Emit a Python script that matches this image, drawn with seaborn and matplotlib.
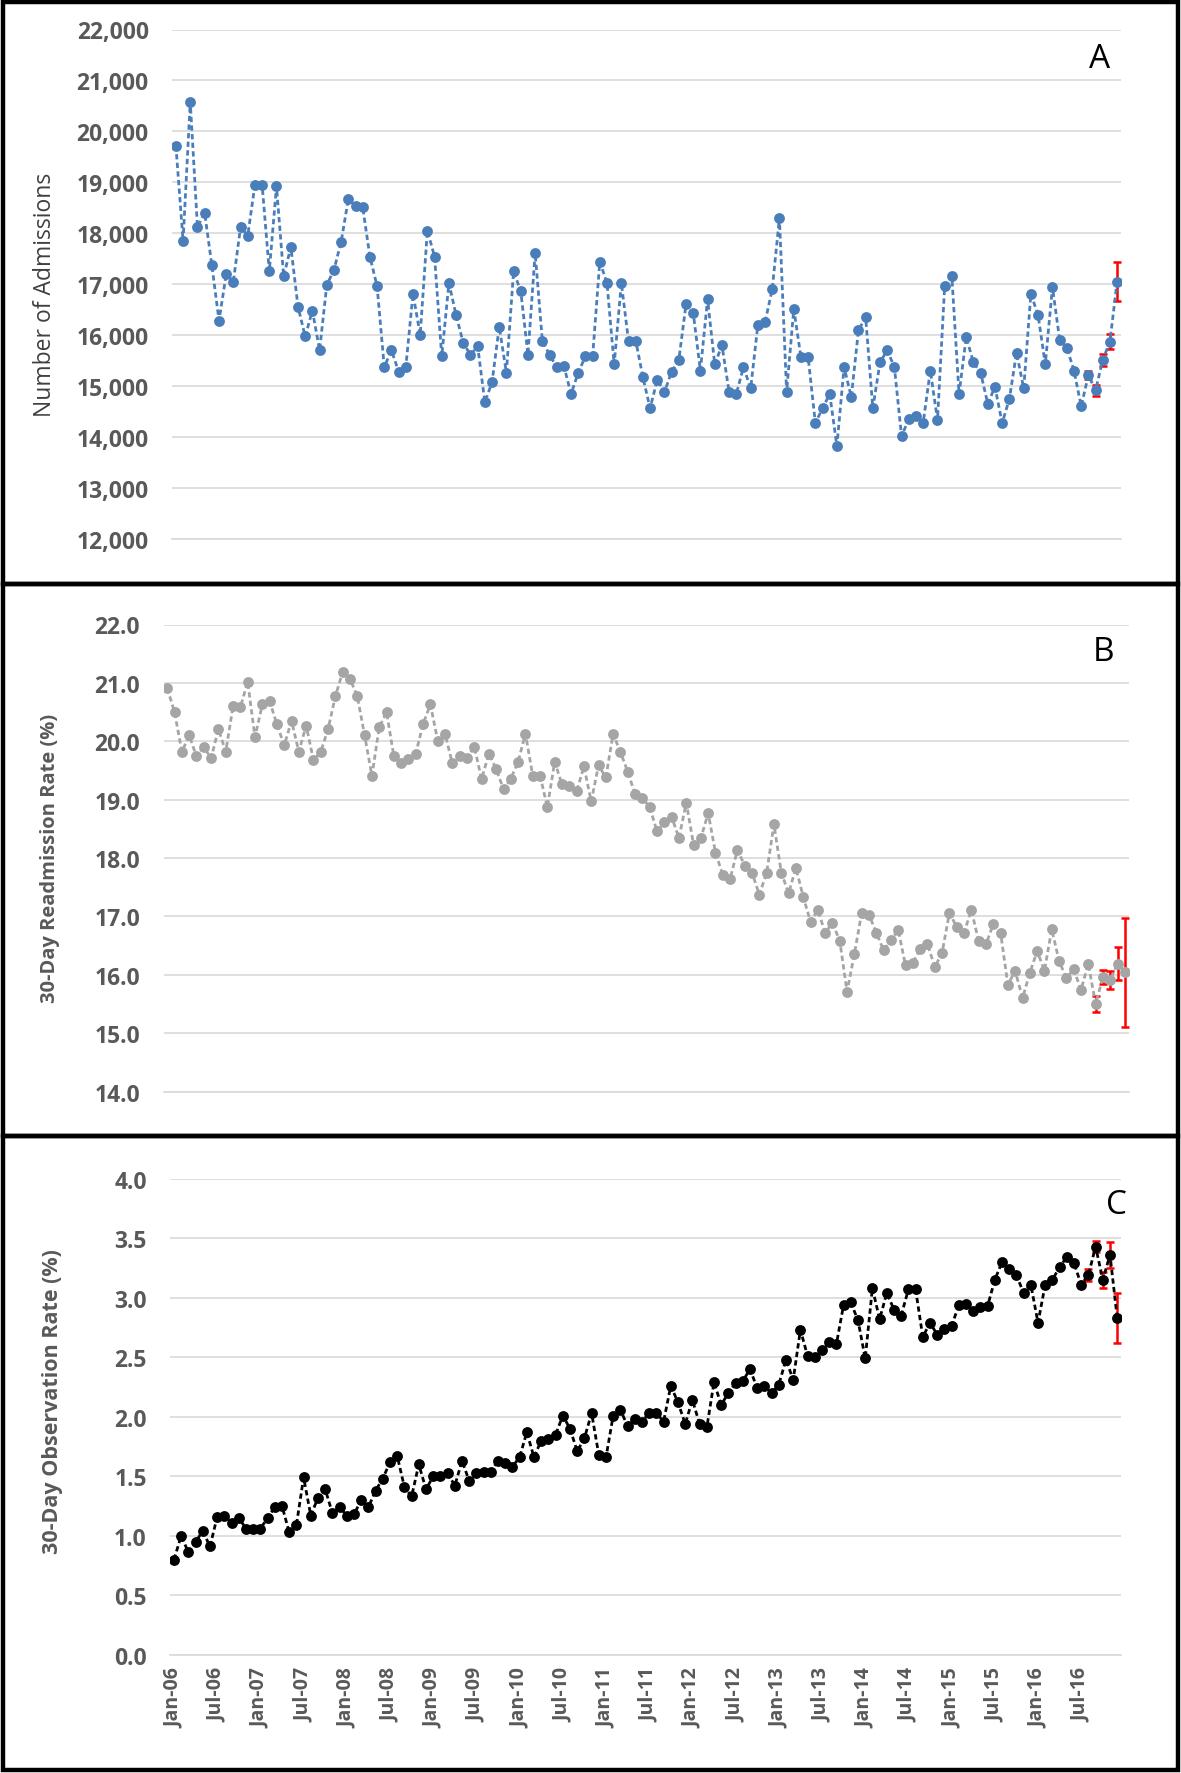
import numpy as np
import pandas as pd
import matplotlib
matplotlib.use("Agg")
import matplotlib.pyplot as plt
import seaborn as sns
from matplotlib.patches import Rectangle
from matplotlib.ticker import FixedLocator, FuncFormatter

# ---------------- data (monthly, Jan-06 .. Dec-16) ----------------
months = pd.date_range("2006-01-01", periods=132, freq="MS")
month_labels = [d.strftime("%b-%y") for d in months]

admissions = [
    19720, 17850, 20580, 18120, 18400, 17375, 16280, 17190, 17050, 18120, 17950, 18950,
    18950, 17250, 18920, 17150, 17730, 16550, 15970, 16480, 15700, 16980, 17280, 17830,
    18670, 18540, 18510, 17540, 16960, 15370, 15700, 15280, 15370, 16810, 16000, 18050,
    17540, 15580, 17020, 16390, 15840, 15610, 15780, 14680, 15070, 16160, 15260, 17250,
    16860, 15610, 17610, 15890, 15610, 15370, 15390, 14840, 15260, 15580, 15580, 17440,
    17020, 15420, 17020, 15880, 15890, 15170, 14560, 15120, 14880, 15280, 15510, 16600,
    16440, 15300, 16700, 15420, 15800, 14880, 14840, 15370, 14950, 16200, 16250, 16900,
    18300, 14880, 16510, 15560, 15560, 14270, 14560, 14840, 13820, 15370, 14780, 16090,
    16350, 14560, 15460, 15700, 15370, 14010, 14350, 14400, 14270, 15300, 14330, 16960,
    17150, 14840, 15960, 15460, 15260, 14650, 14980, 14270, 14740, 15650, 14950, 16810,
    16390, 15420, 16940, 15910, 15750, 15300, 14600, 15210, 14910, 15510, 15870, 17050,
]

readmission_rate = [
    20.91, 20.50, 19.82, 20.10, 19.74, 19.90, 19.71, 20.21, 19.82, 20.60, 20.58, 21.02,
    20.07, 20.63, 20.69, 20.29, 19.93, 20.35, 19.82, 20.27, 19.68, 19.82, 20.21, 20.77,
    21.19, 21.07, 20.77, 20.10, 19.41, 20.24, 20.50, 19.74, 19.63, 19.69, 19.79, 20.30,
    20.63, 20.01, 20.13, 19.62, 19.74, 19.71, 19.91, 19.35, 19.79, 19.52, 19.18, 19.36,
    19.65, 20.13, 19.41, 19.41, 18.87, 19.65, 19.26, 19.24, 19.14, 19.57, 18.97, 19.59,
    19.38, 20.13, 19.81, 19.48, 19.09, 19.03, 18.87, 18.46, 18.61, 18.71, 18.34, 18.95,
    18.23, 18.34, 18.77, 18.09, 17.71, 17.64, 18.14, 17.87, 17.75, 17.37, 17.75, 18.58,
    17.75, 17.40, 17.83, 17.34, 16.91, 17.11, 16.72, 16.89, 16.58, 15.71, 16.36, 17.06,
    17.03, 16.72, 16.42, 16.59, 16.77, 16.16, 16.21, 16.44, 16.53, 16.13, 16.38, 17.06,
    16.82, 16.72, 17.11, 16.58, 16.52, 16.87, 16.72, 15.83, 16.07, 15.60, 16.03, 16.41,
    16.07, 16.78, 16.24, 15.94, 16.10, 15.74, 16.19, 15.50, 15.96, 15.91, 16.19, 16.04,
]

observation_rate = [
    0.80, 1.00, 0.86, 0.95, 1.04, 0.91, 1.16, 1.17, 1.11, 1.15, 1.06, 1.06,
    1.06, 1.15, 1.24, 1.25, 1.03, 1.09, 1.49, 1.17, 1.32, 1.39, 1.19, 1.24,
    1.17, 1.18, 1.30, 1.24, 1.38, 1.48, 1.62, 1.67, 1.41, 1.33, 1.60, 1.39,
    1.50, 1.50, 1.53, 1.42, 1.63, 1.46, 1.53, 1.54, 1.54, 1.63, 1.61, 1.58,
    1.66, 1.87, 1.66, 1.80, 1.81, 1.85, 2.01, 1.90, 1.71, 1.82, 2.03, 1.68,
    1.66, 2.01, 2.06, 1.92, 1.98, 1.96, 2.03, 2.03, 1.96, 2.26, 2.12, 1.94,
    2.14, 1.94, 1.91, 2.29, 2.10, 2.20, 2.28, 2.30, 2.40, 2.24, 2.26, 2.20,
    2.27, 2.48, 2.31, 2.73, 2.51, 2.50, 2.56, 2.63, 2.61, 2.94, 2.96, 2.81,
    2.49, 3.08, 2.82, 3.04, 2.90, 2.85, 3.07, 3.07, 2.67, 2.79, 2.69, 2.74,
    2.76, 2.94, 2.95, 2.89, 2.92, 2.93, 3.15, 3.30, 3.24, 3.19, 3.04, 3.11,
    2.79, 3.11, 3.15, 3.26, 3.34, 3.29, 3.11, 3.19, 3.43, 3.15, 3.36, 2.83,
]

# error bars on the last five months (Aug-16 .. Dec-16)
err_months = [127, 128, 129, 130, 131]
admissions_err = [80, 100, 115, 150, 390]
readmission_err = [0.13, 0.12, 0.16, 0.28, 0.93]
observation_err = [0.05, 0.05, 0.07, 0.11, 0.21]

panel_letters = ["A", "B", "C"]
y_labels = ["Number of Admissions", "30-Day Readmission Rate (%)", "30-Day Observation Rate (%)"]

# ---------------- figure ----------------
sns.set_style("white")
plt.rcParams["font.family"] = ["Open Sans", "DejaVu Sans"]

W, H = 1181, 1774
fig = plt.figure(figsize=(W / 100, H / 100), dpi=100)

def frac_axes(l, r, t, b):
    return fig.add_axes([l / W, 1 - b / H, (r - l) / W, (b - t) / H])

axA = frac_axes(172.3, 1120.7, 30.5, 539.6)
axB = frac_axes(163.6, 1128.5, 625.5, 1092.6)
axC = frac_axes(170.4, 1120.8, 1179.7, 1655.8)

df = pd.DataFrame({
    "month": np.arange(len(months)),
    "admissions": admissions,
    "readmission": readmission_rate,
    "observation": observation_rate,
})

grid_c = "#d9d9d9"
label_c = "#595959"
dash = (0, (1.9, 1.2))

specs = [
    (axA, "admissions", "#4a7ebb", admissions_err, (12000, 22000), np.arange(12000, 22001, 1000),
     lambda v, p: f"{int(v):,}"),
    (axB, "readmission", "#a5a5a5", readmission_err, (14, 22), np.arange(14, 22.01, 1.0),
     lambda v, p: f"{v:.1f}"),
    (axC, "observation", "#000000", observation_err, (0, 4), np.arange(0, 4.01, 0.5),
     lambda v, p: f"{v:.1f}"),
]

for ax, col, color, err, ylim, yticks, fmt in specs:
    ax.errorbar([df["month"][i] for i in err_months], [df[col][i] for i in err_months],
                yerr=err, fmt="none", ecolor="#ff0000", elinewidth=1.8, capsize=3.2,
                capthick=1.8, zorder=2)
    sns.lineplot(data=df, x="month", y=col, ax=ax, color=color, marker="o",
                 markersize=7.8, markeredgewidth=0, linewidth=2.0, linestyle=dash, zorder=3)
    ax.set_xlim(-0.5, 131.5)
    ax.set_ylim(*ylim)
    ax.yaxis.set_major_locator(FixedLocator(yticks))
    ax.yaxis.set_major_formatter(FuncFormatter(fmt))
    ax.grid(axis="y", color=grid_c, linewidth=1.2)
    ax.grid(axis="x", visible=False)
    ax.set_axisbelow(True)
    for s in ["top", "right", "left"]:
        ax.spines[s].set_visible(False)
    ax.spines["bottom"].set_color(grid_c)
    ax.spines["bottom"].set_linewidth(1.2)
    ax.tick_params(axis="y", length=0, pad=17, labelsize=16.5, labelcolor=label_c)
    for t in ax.get_yticklabels():
        t.set_fontweight("bold")
    ax.xaxis.set_minor_locator(FixedLocator(np.arange(-0.5, 132, 6)))
    ax.xaxis.set_major_locator(FixedLocator(np.arange(0, 132, 6)))
    ax.tick_params(axis="x", which="minor", length=6, width=1.2, color=grid_c, direction="out")
    ax.tick_params(axis="x", which="major", length=0)
    ax.set_xlabel("")
    ax.set_ylabel("")

axA.set_xticklabels([])
axB.set_xticklabels([])
axC.set_xticklabels(month_labels[::6], rotation=90, fontsize=14, fontweight="bold",
                    color=label_c)
axC.tick_params(axis="x", which="major", pad=9)

label_specs = [
    (axA, y_labels[0], 16.5, "normal", "#404040", 45, 0.48),
    (axB, y_labels[1], 14.5, "bold", label_c, 50, 0.502),
    (axC, y_labels[2], 15.5, "bold", label_c, 53, 0.535),
]
for ax, text, size, weight, color, xc, yc in label_specs:
    ax.set_ylabel(text, fontsize=size, fontweight=weight, color=color, va="center")
    l = ax.get_position().x0 * W
    w = ax.get_position().width * W
    ax.yaxis.set_label_coords((xc - l) / w, yc)

# panel letters
for letter, (x, y) in zip(panel_letters, [(1100, 59), (1103, 653), (1116, 1205)]):
    fig.text(x / W, 1 - y / H, letter, fontsize=24, ha="center", va="center", color="black")

# panel frames
for top, bot in [(3, 585), (585, 1137), (1137, 1771)]:
    fig.add_artist(Rectangle((3 / W, 1 - bot / H), (1178 - 3) / W, (bot - top) / H,
                             transform=fig.transFigure, fill=False, edgecolor="black",
                             linewidth=3.2))

fig.savefig("out.png", dpi=100)
